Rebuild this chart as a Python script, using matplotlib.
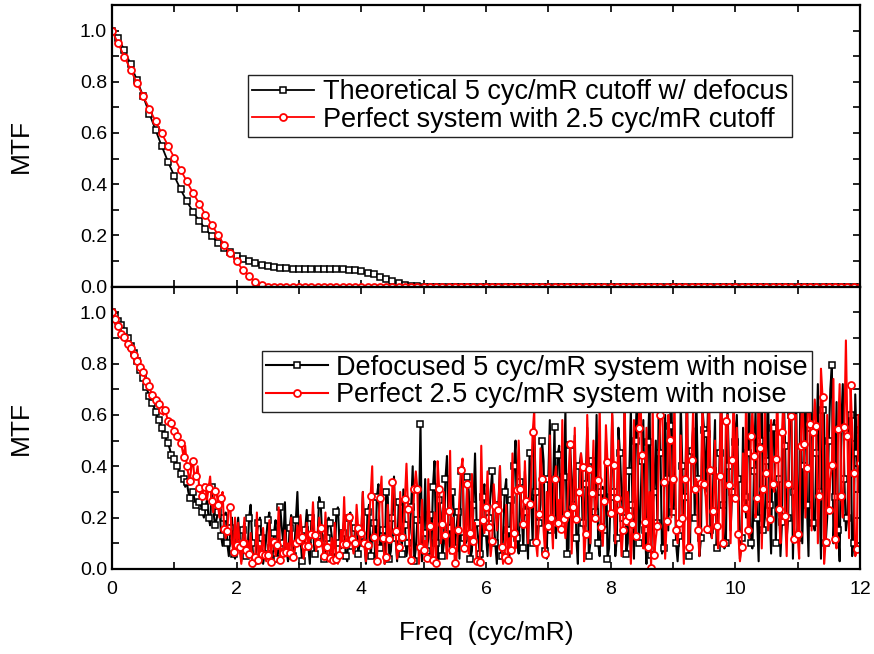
import numpy as np
import matplotlib
matplotlib.use("Agg")
import matplotlib.pyplot as plt
from matplotlib.ticker import MultipleLocator

# ---- top panel: smooth MTF curves, sampled every 0.1 cyc/mR ----
freq_top = np.round(np.arange(0, 12.001, 0.1), 3)
theory_defocus = [1.0, 0.97, 0.924, 0.868, 0.807, 0.744, 0.676, 0.611, 0.548, 0.487,
                  0.432, 0.38, 0.334, 0.292, 0.257, 0.225, 0.197, 0.172, 0.15, 0.135,
                  0.12, 0.108, 0.1, 0.091, 0.085, 0.08, 0.076, 0.073, 0.071, 0.07,
                  0.07, 0.07, 0.07, 0.07, 0.07, 0.069, 0.068, 0.067, 0.066, 0.064,
                  0.06, 0.052, 0.047, 0.039, 0.029, 0.02, 0.013, 0.007, 0.003, 0.001,
                  0.0] + [0.0] * 70
perfect_25 = [1.0, 0.95, 0.898, 0.846, 0.796, 0.744, 0.695, 0.646, 0.598, 0.55,
              0.503, 0.457, 0.411, 0.366, 0.324, 0.281, 0.242, 0.202, 0.163, 0.13,
              0.098, 0.065, 0.04, 0.017, 0.004] + [0.0] * 96

# ---- bottom panel: noisy MTF, sampled every 0.025 cyc/mR ----
freq_bot = np.round(np.arange(0, 12.001, 0.025), 4)

# values at 0, 0.05, 0.10 ... 12 (these carry the markers)
red_mk = [1.0, 0.972, 0.945, 0.916, 0.903, 0.876, 0.861, 0.835, 0.811, 0.785,
          0.767, 0.731, 0.711, 0.679, 0.66, 0.642, 0.62, 0.62, 0.575, 0.568,
          0.536, 0.516, 0.49, 0.438, 0.4, 0.341, 0.421, 0.364, 0.315, 0.286,
          0.321, 0.315, 0.263, 0.304, 0.249, 0.278, 0.155, 0.148, 0.24, 0.068,
          0.094,
          0.085, 0.1, 0.072, 0.059, 0.022, 0.048, 0.035, 0.057, 0.055, 0.055,
          0.026, 0.107, 0.094, 0.035, 0.061, 0.065, 0.064, 0.046, 0.1, 0.113,
          0.126, 0.09, 0.09, 0.135, 0.131, 0.1, 0.159, 0.051, 0.087, 0.042,
          0.035, 0.04, 0.055, 0.098, 0.098, 0.204, 0.116, 0.103, 0.159, 0.139,
          0.10, 0.094, 0.285, 0.126, 0.031, 0.278, 0.12, 0.048, 0.116, 0.337,
          0.146, 0.087, 0.124, 0.272, 0.233, 0.035, 0.311, 0.311, 0.085, 0.074,
          0.044, 0.169, 0.035, 0.022, 0.311, 0.176, 0.133, 0.224, 0.074, 0.025,
          0.15, 0.386, 0.081, 0.332, 0.139, 0.11, 0.031, 0.028, 0.191, 0.241,
          0.165, 0.109, 0.246, 0.23, 0.087, 0.048, 0.035, 0.072, 0.142, 0.306,
          0.312, 0.174, 0.265, 0.252, 0.532, 0.107, 0.213, 0.351, 0.059, 0.168,
          0.199, 0.351, 0.181, 0.155, 0.196, 0.213, 0.488, 0.243, 0.196, 0.3,
          0.399, 0.135, 0.389, 0.295, 0.2, 0.347, 0.165, 0.263, 0.417, 0.217,
          0.403, 0.276, 0.23, 0.15, 0.185, 0.207, 0.174, 0.13, 0.55, 0.445,
          0.182, 0.085, 0.005, 0.055, 0.169, 0.6, 0.337, 0.187, 0.503, 0.351,
          0.15, 0.181, 0.198, 0.351, 0.085, 0.425, 0.313, 0.15, 0.334, 0.33,
          0.155, 0.386, 0.224, 0.169, 0.363, 0.1, 0.575, 0.327, 0.423, 0.276,
          0.135, 0.085, 0.237, 0.15, 0.516, 0.441, 0.278, 0.473, 0.311, 0.373,
          0.195, 0.33, 0.428, 0.234, 0.535, 0.208, 0.33, 0.594, 0.116, 0.135,
          0.48, 0.485, 0.393, 0.564, 0.532, 0.558, 0.286, 0.67, 0.107, 0.23,
          0.403, 0.116, 0.546, 0.286, 0.554, 0.519, 0.715, 0.373, 0.077, 0.412]
# values halfway between (0.025, 0.075 ... 11.975)
red_mid = [0.985, 0.96, 0.93, 0.91, 0.89, 0.87, 0.845, 0.82, 0.8, 0.775,
           0.75, 0.72, 0.69, 0.67, 0.65, 0.63, 0.6, 0.6, 0.57, 0.55,
           0.52, 0.5, 0.47, 0.48, 0.37, 0.4, 0.35, 0.4, 0.29, 0.33,
           0.27, 0.36, 0.22, 0.31, 0.2, 0.3, 0.12, 0.25, 0.1, 0.2,
           0.18, 0.02, 0.2, 0.11, 0.14, 0.01, 0.22, 0.09, 0.16, 0.03,
           0.19, 0.12, 0.05, 0.24, 0.08, 0.15, 0.1, 0.2, 0.06, 0.17,
           0.21, 0.04, 0.18, 0.12, 0.26, 0.07, 0.2, 0.09, 0.22, 0.03,
           0.12, 0.18, 0.02, 0.15, 0.28, 0.09, 0.21, 0.06, 0.25, 0.1,
           0.3, 0.03, 0.2, 0.4, 0.1, 0.18, 0.36, 0.02, 0.25, 0.12,
           0.33, 0.04, 0.3, 0.15, 0.41, 0.06, 0.2, 0.38, 0.02, 0.27,
           0.11, 0.35, 0.05, 0.22, 0.42, 0.1, 0.3, 0.04, 0.46, 0.2,
           0.03, 0.28, 0.43, 0.12, 0.06, 0.37, 0.18, 0.02, 0.48, 0.14,
           0.38, 0.05, 0.33, 0.15, 0.4, 0.02, 0.25, 0.12, 0.45, 0.08,
           0.5, 0.2, 0.42, 0.1, 0.35, 0.62, 0.05, 0.47, 0.15, 0.3,
           0.52, 0.08, 0.4, 0.27, 0.58, 0.12, 0.36, 0.06, 0.55, 0.2,
           0.45, 0.03, 0.6, 0.1, 0.5, 0.25, 0.64, 0.09, 0.56, 0.3,
           0.62, 0.1, 0.5, 0.05, 0.7, 0.3, 0.02, 0.58, 0.25, 0.75,
           0.08, 0.55, 0.3, 0.66, 0.12, 0.45, 0.72, 0.04, 0.6, 0.2,
           0.68, 0.1, 0.52, 0.02, 0.7, 0.18, 0.63, 0.35, 0.05, 0.66,
           0.28, 0.72, 0.12, 0.5, 0.08, 0.78, 0.22, 0.6, 0.1, 0.7,
           0.55, 0.03, 0.45, 0.7, 0.12, 0.62, 0.2, 0.76, 0.08, 0.65,
           0.15, 0.58, 0.3, 0.72, 0.1, 0.68, 0.05, 0.8, 0.25, 0.6,
           0.04, 0.7, 0.2, 0.82, 0.15, 0.66, 0.1, 0.78, 0.02, 0.6,
           0.35, 0.74, 0.08, 0.72, 0.2, 0.89, 0.12, 0.55, 0.05, 0.6]

blk_mk = [1.0, 0.985, 0.965, 0.95, 0.925, 0.9, 0.87, 0.84, 0.81, 0.775,
          0.745, 0.71, 0.675, 0.645, 0.61, 0.58, 0.55, 0.52, 0.49, 0.445,
          0.43, 0.4, 0.37, 0.35, 0.34, 0.275, 0.3, 0.25, 0.26, 0.22,
          0.24, 0.2, 0.32, 0.17, 0.22, 0.13, 0.2, 0.1, 0.16, 0.06,
          0.13,
          0.09, 0.15, 0.05, 0.2, 0.1, 0.03, 0.18, 0.12, 0.06, 0.19,
          0.08, 0.14, 0.04, 0.24, 0.1, 0.07, 0.16, 0.05, 0.19, 0.11,
          0.03, 0.15, 0.09, 0.2, 0.06, 0.13, 0.25, 0.04, 0.12, 0.18,
          0.07, 0.22, 0.1, 0.14, 0.05, 0.2, 0.09, 0.16, 0.06, 0.13,
          0.1, 0.22, 0.05, 0.18, 0.28, 0.08, 0.15, 0.3, 0.04, 0.2,
          0.12, 0.26, 0.06, 0.17, 0.1, 0.24, 0.03, 0.19, 0.566, 0.14,
          0.07, 0.21, 0.32, 0.1, 0.27, 0.05, 0.35, 0.16, 0.3, 0.08,
          0.22, 0.38, 0.12, 0.36, 0.04, 0.25, 0.18, 0.06, 0.28, 0.14,
          0.2, 0.38, 0.1, 0.25, 0.05, 0.3, 0.15, 0.27, 0.4, 0.12,
          0.34, 0.08, 0.22, 0.45, 0.1, 0.3, 0.18, 0.5, 0.07, 0.35,
          0.15, 0.551, 0.445, 0.2, 0.36, 0.06, 0.483, 0.25, 0.12, 0.4,
          0.18, 0.33, 0.05, 0.42, 0.22, 0.1, 0.3, 0.15, 0.037, 0.28,
          0.3, 0.12, 0.45, 0.2, 0.06, 0.38, 0.25, 0.5, 0.1, 0.42,
          0.15, 0.494, 0.055, 0.3, 0.18, 0.45, 0.08, 0.35, 0.555, 0.22,
          0.1, 0.13, 0.4, 0.28, 0.05, 0.46, 0.2, 0.35, 0.12, 0.542,
          0.525, 0.15, 0.38, 0.08, 0.45, 0.25, 0.1, 0.4, 0.3, 0.494,
          0.35, 0.12, 0.28, 0.45, 0.1, 0.38, 0.2, 0.5, 0.15, 0.42,
          0.25, 0.55, 0.1, 0.35, 0.184, 0.48, 0.2, 0.6, 0.3, 0.12,
          0.757, 0.4, 0.25, 0.55, 0.181, 0.45, 0.3, 0.62, 0.1, 0.5,
          0.793, 0.28, 0.15, 0.55, 0.35, 0.2, 0.6, 0.1, 0.45, 0.541]
blk_mid = [0.995, 0.975, 0.96, 0.94, 0.91, 0.885, 0.855, 0.825, 0.79, 0.76,
           0.73, 0.69, 0.66, 0.63, 0.595, 0.565, 0.535, 0.5, 0.47, 0.44,
           0.415, 0.385, 0.36, 0.32, 0.3, 0.29, 0.27, 0.24, 0.25, 0.2,
           0.27, 0.17, 0.24, 0.19, 0.26, 0.09, 0.22, 0.05, 0.2, 0.04,
           0.2, 0.03, 0.18, 0.06, 0.25, 0.01, 0.14, 0.2, 0.02, 0.12,
           0.22, 0.04, 0.19, 0.08, 0.16, 0.26, 0.03, 0.21, 0.07, 0.3,
           0.12, 0.05, 0.23, 0.02, 0.17, 0.09, 0.28, 0.11, 0.06, 0.2,
           0.13, 0.04, 0.24, 0.08, 0.19, 0.03, 0.22, 0.07, 0.18, 0.1,
           0.3, 0.02, 0.25, 0.12, 0.04, 0.33, 0.1, 0.02, 0.28, 0.07,
           0.36, 0.03, 0.22, 0.31, 0.05, 0.14, 0.4, 0.08, 0.2, 0.03,
           0.35, 0.12, 0.06, 0.42, 0.02, 0.22, 0.1, 0.44, 0.06, 0.28,
           0.15, 0.04, 0.4, 0.1, 0.3, 0.07, 0.45, 0.12, 0.03, 0.33,
           0.05, 0.3, 0.18, 0.02, 0.4, 0.12, 0.35, 0.03, 0.22, 0.5,
           0.06, 0.2, 0.38, 0.04, 0.28, 0.55, 0.1, 0.25, 0.42, 0.04,
           0.58, 0.3, 0.12, 0.48, 0.2, 0.62, 0.08, 0.35, 0.52, 0.02,
           0.45, 0.15, 0.55, 0.1, 0.4, 0.6, 0.05, 0.32, 0.5, 0.08,
           0.6, 0.05, 0.55, 0.3, 0.68, 0.1, 0.62, 0.04, 0.7, 0.2,
           0.58, 0.02, 0.66, 0.25, 0.5, 0.72, 0.06, 0.6, 0.15, 0.7,
           0.4, 0.03, 0.65, 0.18, 0.75, 0.1, 0.55, 0.68, 0.05, 0.62,
           0.3, 0.72, 0.12, 0.58, 0.2, 0.7, 0.08, 0.64, 0.15, 0.6,
           0.6, 0.04, 0.55, 0.2, 0.7, 0.08, 0.62, 0.03, 0.66, 0.2,
           0.72, 0.06, 0.58, 0.3, 0.05, 0.7, 0.12, 0.65, 0.04, 0.75,
           0.3, 0.1, 0.815, 0.05, 0.68, 0.15, 0.72, 0.04, 0.6, 0.2,
           0.7, 0.1, 0.65, 0.03, 0.72, 0.15, 0.6, 0.05, 0.68, 0.3]


def interleave(mk, mid):
    out = np.empty(len(mk) + len(mid))
    out[0::2] = mk
    out[1::2] = mid
    return out


red_noisy = interleave(red_mk, red_mid)
blk_noisy = interleave(blk_mk, blk_mid)

plt.rcParams["font.family"] = ["Liberation Sans", "DejaVu Sans"]
tick_font = {"size": 14}
label_font = {"size": 19}

fig = plt.figure(figsize=(8.74, 6.54), dpi=100)
ax1 = fig.add_axes([0.1281, 0.5619, 0.8558, 0.4304])
ax2 = fig.add_axes([0.1281, 0.1300, 0.8558, 0.4319])

ax1.plot(freq_top, theory_defocus, color="black", lw=1.3, marker="s", ms=4.2,
         mfc="white", mec="black", mew=1.1,
         label="Theoretical 5 cyc/mR cutoff w/ defocus")
ax1.plot(freq_top, perfect_25, color="red", lw=1.3, marker="o", ms=5,
         mfc="white", mec="red", mew=1.3,
         label="Perfect system with 2.5 cyc/mR cutoff")

ax2.plot(freq_bot, blk_noisy, color="black", lw=1.5, marker="s", ms=4.2,
         markevery=2, mfc="white", mec="black", mew=1.1,
         label="Defocused 5 cyc/mR system with noise")
ax2.plot(freq_bot, red_noisy, color="red", lw=1.5, marker="o", ms=5,
         markevery=2, mfc="white", mec="red", mew=1.3,
         label="Perfect 2.5 cyc/mR system with noise")

for ax in (ax1, ax2):
    ax.set_xlim(0, 12)
    ax.set_ylim(0, 1.1)
    ax.xaxis.set_major_locator(MultipleLocator(2))
    ax.xaxis.set_minor_locator(MultipleLocator(1))
    ax.yaxis.set_major_locator(MultipleLocator(0.2))
    ax.yaxis.set_minor_locator(MultipleLocator(0.1))
    ax.tick_params(which="both", direction="in", top=True, right=True,
                   width=1.2, length=5)
    for s in ax.spines.values():
        s.set_linewidth(1.6)
    ax.set_ylabel("MTF", fontdict=label_font, labelpad=34)
    ax.set_yticks(np.arange(0, 1.01, 0.2))
    ax.set_yticklabels(["0.0", "0.2", "0.4", "0.6", "0.8", "1.0"], fontdict=tick_font)

ax1.tick_params(labelbottom=False)
ax2.set_xticks(np.arange(0, 12.1, 2))
ax2.set_xticklabels([str(v) for v in range(0, 13, 2)], fontdict=tick_font)
ax2.tick_params(axis="x", pad=9)
ax2.set_xlabel("Freq  (cyc/mR)", fontdict=label_font, labelpad=16)

leg_kw = dict(loc="upper left", fontsize=19.5, frameon=True, fancybox=False,
              framealpha=1, edgecolor="#222222", borderaxespad=0,
              borderpad=0.15, labelspacing=0.05, handlelength=2.3,
              handletextpad=0.3)
l1 = ax1.legend(bbox_to_anchor=(0.182, 0.751), **leg_kw)
l2 = ax2.legend(bbox_to_anchor=(0.200, 0.773), **leg_kw)
for lg in (l1, l2):
    lg.get_frame().set_linewidth(1.0)

fig.savefig("out.png", dpi=100)
